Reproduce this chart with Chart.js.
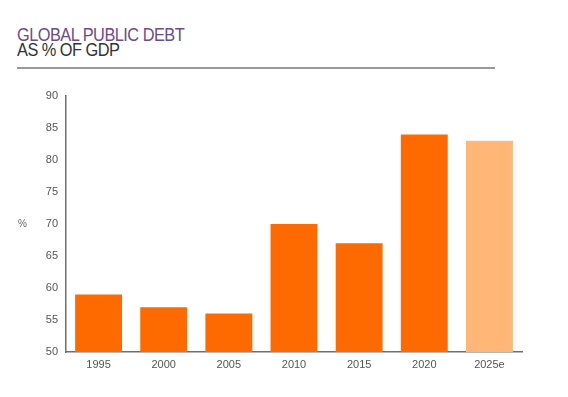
<!DOCTYPE html>
<html>
<head>
<meta charset="utf-8">
<script src="https://cdn.jsdelivr.net/npm/chart.js@4"></script>
<style>
  html, body { margin: 0; padding: 0; background: #fff; }
  body { width: 568px; height: 397px; position: relative; overflow: hidden; font-family: "Liberation Sans", sans-serif; }
  .title { position: absolute; left: 17px; top: 27px; font-size: 19px; line-height: 15px; letter-spacing: -0.6px; transform: scaleX(0.86); transform-origin: left top; white-space: nowrap; }
  .title .l1 { color: #6b4c8c; }
  .title .l2 { color: #333; }
  .rule { position: absolute; left: 17px; top: 67px; width: 478px; height: 2px; background: #9a9a9a; }
  #wrap { position: absolute; left: 0; top: 0; width: 568px; height: 397px; }
</style>
</head>
<body>
<div class="title"><div class="l1">GLOBAL PUBLIC DEBT</div><div class="l2">AS % OF GDP</div></div>
<div class="rule"></div>
<div id="wrap"><canvas id="debtChart"></canvas></div>
<script>
// Global public debt, % of GDP
const years = ['1995', '2000', '2005', '2010', '2015', '2020', '2025e'];
const debtValues = [59, 57, 56, 70, 67, 84, 83];
const barColors = ['#ff6a00', '#ff6a00', '#ff6a00', '#ff6a00', '#ff6a00', '#ff6a00', '#ffb677'];
const yTicks = [50, 55, 60, 65, 70, 75, 80, 85, 90];

// draws the "%" unit label level with the 70 tick
const unitLabel = {
    id: 'unitLabel',
    afterDraw(chart) {
        const ctx = chart.ctx;
        const y = chart.scales.y.getPixelForValue(70);
        ctx.save();
        ctx.font = '10px "Liberation Sans", sans-serif';
        ctx.fillStyle = '#666';
        ctx.textAlign = 'left';
        ctx.textBaseline = 'middle';
        ctx.fillText('%', 18, y);
        ctx.restore();
    }
};

new Chart(document.getElementById('debtChart'), {
    type: 'bar',
    data: {
        labels: years,
        datasets: [{
            data: debtValues,
            backgroundColor: barColors,
            borderWidth: 0,
            categoryPercentage: 1,
            barPercentage: 0.72
        }]
    },
    options: {
        responsive: true,
        maintainAspectRatio: false,
        animation: false,
        layout: { padding: { left: 36, right: 46, top: 96, bottom: 20 } },
        plugins: {
            legend: { display: false },
            tooltip: { enabled: false }
        },
        scales: {
            x: {
                grid: { display: false, drawTicks: false },
                border: { color: '#707070', width: 1.5 },
                ticks: { color: '#555', font: { family: '"Liberation Sans", sans-serif', size: 11 }, padding: 6 },
                afterFit: (scale) => { scale.height = 25; }
            },
            y: {
                min: 50,
                max: 90,
                afterBuildTicks: (scale) => { scale.ticks = yTicks.map(v => ({ value: v })); },
                grid: { display: false, drawTicks: false },
                border: { color: '#707070', width: 1.5 },
                ticks: { color: '#555', font: { family: '"Liberation Sans", sans-serif', size: 11 }, padding: 8 },
                afterFit: (scale) => { scale.width = 30; }
            }
        }
    },
    plugins: [unitLabel]
});
</script>
</body>
</html>
